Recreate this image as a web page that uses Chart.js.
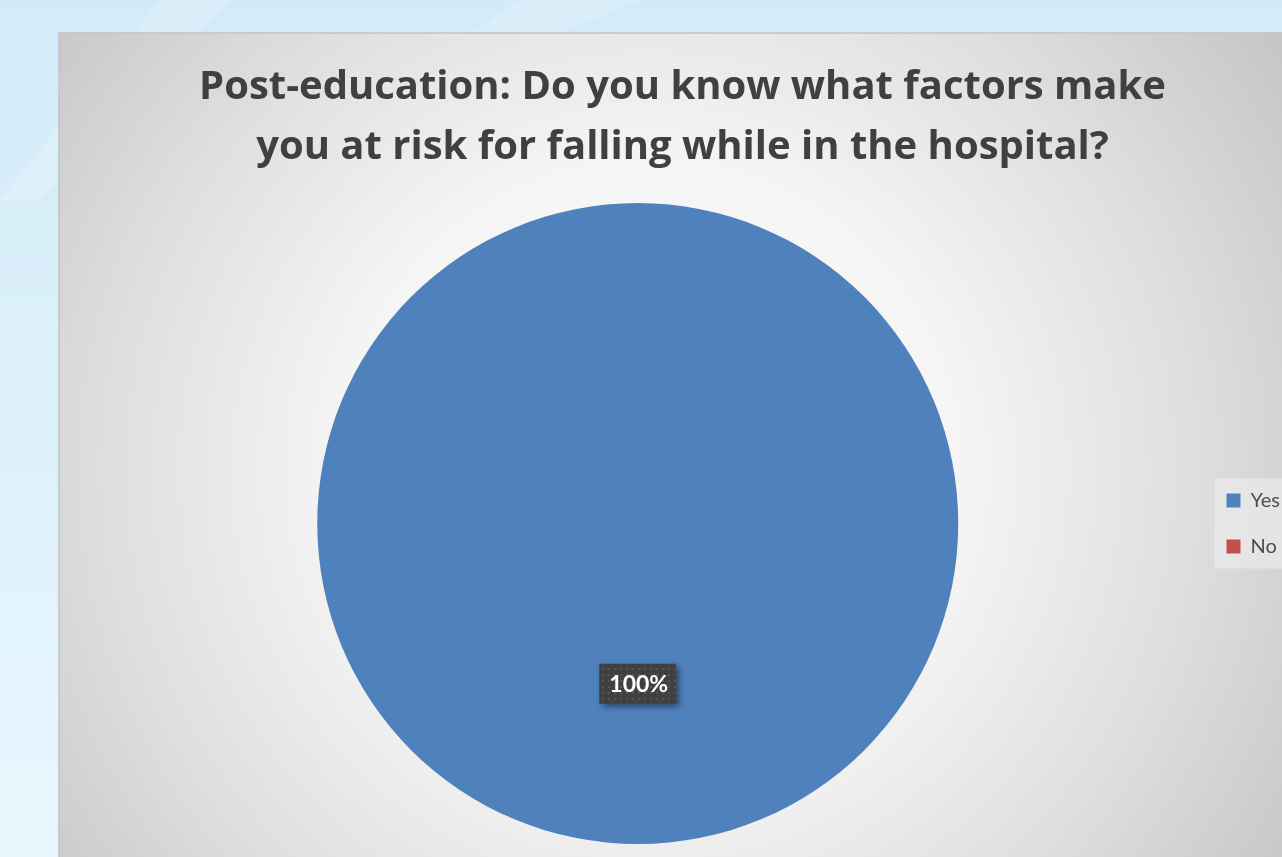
<!DOCTYPE html>
<html>
<head>
<meta charset="utf-8">
<title>Post-education pie</title>
<script src="https://cdn.jsdelivr.net/npm/chart.js@4.4.1/dist/chart.umd.min.js"></script>
<style>
  html, body { margin: 0; padding: 0; overflow: hidden; background: #e4f5fd; }
  #wrap { position: absolute; left: 0; top: 0; width: 1290px; height: 857px; }
</style>
</head>
<body>
<div id="wrap"><canvas id="pie" width="1290" height="857"></canvas></div>
<script>
// ---- data ----
const answers = ['Yes', 'No'];
const answerValues = [100, 0];
const answerColors = ['#4f81bd', '#c0504d'];
const chartTitle = ['Post-education: Do you know what factors make', 'you at risk for falling while in the hospital?'];

const TITLE_FONT = "'Open Sans', Lato, sans-serif";
const FONT = "Lato, 'Open Sans', sans-serif";

// slide background + chart panel
const backdrop = {
    id: 'backdrop',
    beforeDraw(chart) {
        const c = chart.ctx, w = chart.width, h = chart.height;
        c.save();
        let g = c.createLinearGradient(0, 0, 0, h);
        g.addColorStop(0, '#d2ebf8');
        g.addColorStop(1, '#e8f7fe');
        c.fillStyle = g;
        c.fillRect(0, 0, w, h);
        // soft light streaks
        c.globalAlpha = 0.18;
        c.fillStyle = '#ffffff';
        c.beginPath(); c.moveTo(160, 0); c.lineTo(230, 0); c.lineTo(40, 200); c.lineTo(0, 200); c.closePath(); c.fill();
        c.beginPath(); c.moveTo(520, 0); c.lineTo(640, 0); c.lineTo(560, 33); c.lineTo(470, 33); c.closePath(); c.fill();
        c.globalAlpha = 1;

        // panel
        const px = 59, py = 33;
        const rg = c.createRadialGradient(650, 470, 0, 650, 470, 760);
        rg.addColorStop(0, '#ffffff');
        rg.addColorStop(0.4, '#f5f5f5');
        rg.addColorStop(0.72, '#dedede');
        rg.addColorStop(1, '#c6c6c6');
        c.fillStyle = rg;
        c.fillRect(px, py, w - px, h - py);
        c.strokeStyle = '#c2c2c2';
        c.lineWidth = 1.5;
        c.beginPath(); c.moveTo(px, h); c.lineTo(px, py); c.lineTo(w, py); c.stroke();

        // legend panel
        const lg = chart.legend;
        if (lg && lg.legendHitBoxes && lg.legendHitBoxes.length) {
            const hb = lg.legendHitBoxes;
            const first = hb[0], last = hb[hb.length - 1];
            const top = first.top + first.height / 2 - 22;
            const bottom = last.top + last.height / 2 + 22;
            c.fillStyle = 'rgba(240,240,240,0.55)';
            c.fillRect(first.left - 12, top, w - first.left + 12, bottom - top);
        }
        c.restore();
    }
};

// dotted dark data label
function dotPattern(c) {
    const p = document.createElement('canvas');
    p.width = 6; p.height = 6;
    const pc = p.getContext('2d');
    pc.fillStyle = '#404040';
    pc.fillRect(0, 0, 6, 6);
    pc.fillStyle = '#555555';
    pc.fillRect(2, 2, 2, 2);
    return c.createPattern(p, 'repeat');
}

const pctLabels = {
    id: 'pctLabels',
    afterDatasetsDraw(chart) {
        const c = chart.ctx;
        const meta = chart.getDatasetMeta(0);
        const values = answerValues;
        const total = values.reduce((a, b) => a + b, 0);
        meta.data.forEach((arc, i) => {
            if (!values[i]) return;
            const p = arc.getProps(['x', 'y', 'startAngle', 'endAngle', 'outerRadius'], true);
            const mid = (p.startAngle + p.endAngle) / 2;
            const lx = p.x + Math.cos(mid) * p.outerRadius / 2;
            const ly = p.y + Math.sin(mid) * p.outerRadius / 2;
            const text = Math.round(values[i] / total * 100) + '%';
            c.save();
            c.font = "bold 23px " + FONT;
            const bw = 77, bh = 40;
            c.shadowColor = 'rgba(0,0,0,0.45)';
            c.shadowBlur = 6;
            c.shadowOffsetX = 3;
            c.shadowOffsetY = 3;
            c.fillStyle = dotPattern(c);
            c.fillRect(lx - bw / 2, ly - bh / 2, bw, bh);
            c.shadowColor = 'transparent';
            c.fillStyle = '#ffffff';
            c.textAlign = 'center';
            c.textBaseline = 'middle';
            c.fillText(text, lx + 1, ly + 1);
            c.restore();
        });
    }
};

const pieSet = {
    backgroundColor: answerColors,
    borderWidth: 0
};
pieSet.data = answerValues;

const config = {
    type: 'pie',
    options: {
        responsive: false,
        animation: false,
        events: [],
        layout: { padding: { left: 75, top: 33, bottom: 13, right: 0 } },
        plugins: {
            title: {
                display: true,
                text: chartTitle,
                color: '#404040',
                font: { family: TITLE_FONT, size: 40, weight: 'bold', lineHeight: 1.5 },
                padding: { top: 25, bottom: 25 }
            },
            legend: {
                position: 'right',
                fullSize: false,
                labels: {
                    color: '#4d4d4d',
                    font: { family: FONT, size: 20 },
                    boxWidth: 14,
                    boxHeight: 14,
                    padding: 26
                }
            },
            tooltip: { enabled: false }
        }
    },
    plugins: [backdrop, pctLabels]
};
config.data = { labels: answers, datasets: [pieSet] };

new Chart(document.getElementById('pie'), config);
</script>
</body>
</html>
